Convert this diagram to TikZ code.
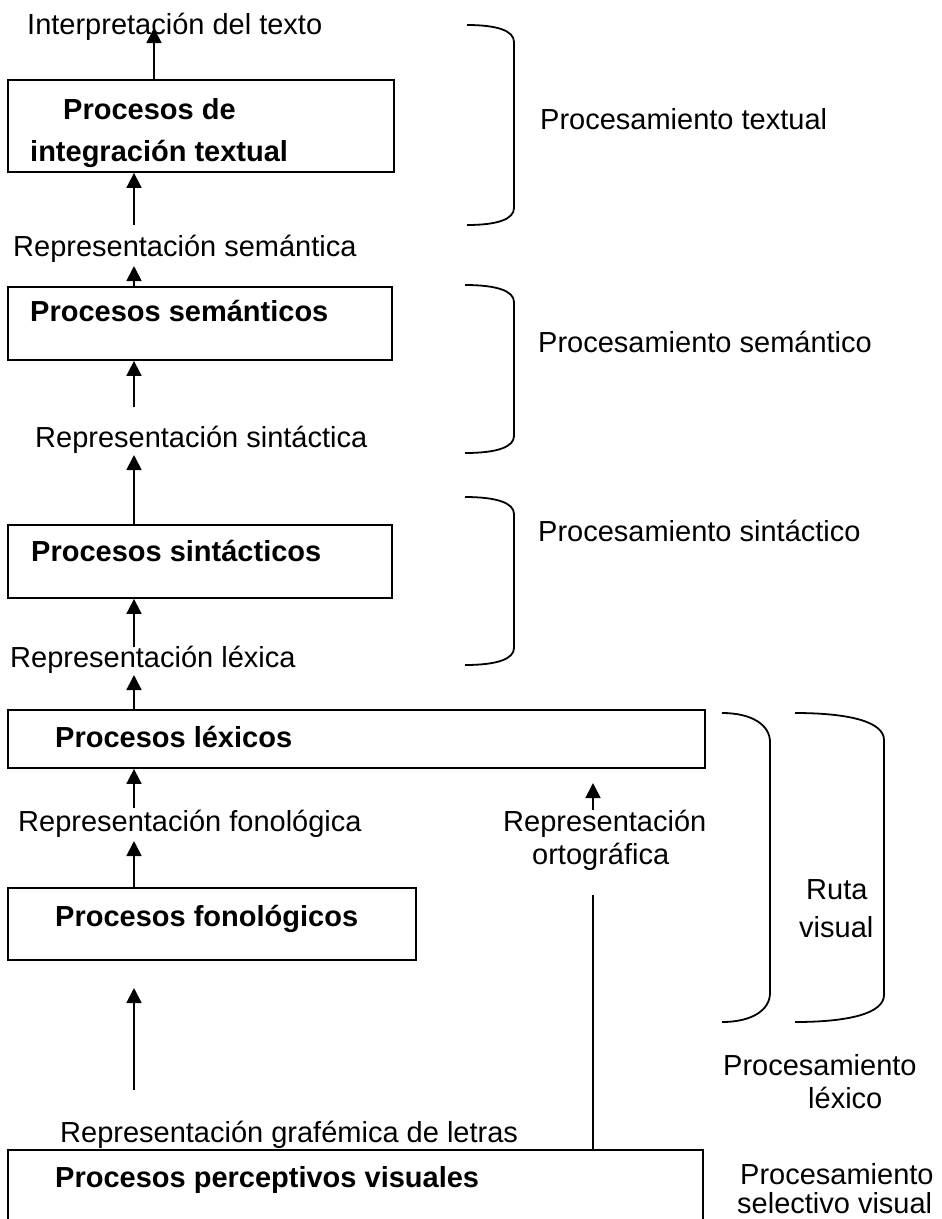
\documentclass[tikz,border=0pt]{standalone}
\usepackage{fontspec}
\setmainfont{Liberation Sans}
\usetikzlibrary{arrows.meta,fit}
\begin{document}
\begin{tikzpicture}[x=1pt,y=-1pt,
  procbox/.style={draw, line width=1.8pt, inner sep=0pt},
  txt/.style={anchor=base west, inner sep=0pt, font=\fontsize{29}{33}\selectfont},
  btxt/.style={anchor=base west, inner sep=0pt, font=\fontsize{29}{33}\selectfont\bfseries},
  up/.style={-{Triangle[width=15pt,length=15pt]}, line width=1.8pt},
  plain/.style={line width=1.8pt},
  brace/.style={line width=1.8pt}]
\useasboundingbox (0,0) rectangle (942,1219);
\fill[white] (0,0) rectangle (942,1219);
\clip (0,0) rectangle (942,1219);

% process boxes
\node[procbox, fit={(8,80) (394,172)}] (b1) {};
\node[procbox, fit={(8,287) (392,360)}] (b2) {};
\node[procbox, fit={(8,525) (392,598)}] (b3) {};
\node[procbox, fit={(8,710) (705,768)}] (b4) {};
\node[procbox, fit={(8,888) (416,960)}] (b5) {};
\node[procbox, fit={(8,1150) (703,1260)}] (b6) {};

% box titles
\node[btxt] (t1a) at (63,119) {Procesos de};
\node[btxt] (t1b) at (30,161) {integración textual};
\node[btxt] (t2) at (30,321) {Procesos semánticos};
\node[btxt] (t3) at (31,561) {Procesos sintácticos};
\node[btxt] (t4) at (55,747) {Procesos léxicos};
\node[btxt] (t5) at (55,926) {Procesos fonológicos};
\node[btxt] (t6) at (55,1187) {Procesos perceptivos visuales};

% representations between the stages
\node[txt] (rint) at (27,34) {Interpretación del texto};
\node[txt] (rsem) at (13,256) {Representación semántica};
\node[txt] (rsin) at (35,447) {Representación sintáctica};
\node[txt] (rlex) at (10,667) {Representación léxica};
\node[txt] (rfon) at (18,831) {Representación fonológica};
\node[txt] (rgra) at (60,1142) {Representación grafémica de letras};
\node[txt] (rort1) at (503,831) {Representación};
\node[txt] (rort2) at (532,864) {ortográfica};

% connector end points
\coordinate (c0) at (154,28);
\coordinate (c1) at (134,225);
\coordinate (c2) at (134,266);
\coordinate (c3) at (134,407);
\coordinate (c4) at (134,455);
\coordinate (c5) at (134,647);
\coordinate (c6) at (134,675);
\coordinate (c7) at (134,808);
\coordinate (c8) at (134,841);
\coordinate (c9) at (134,1090);
\coordinate (c10) at (134,988);
\coordinate (o1) at (593,810);
\coordinate (o2) at (593,783);
\coordinate (o3) at (593,895);

% upward flow
\draw[up] (c0 |- b1.north) -- (c0);
\draw[up] (c1) -- (c1 |- b1.south);
\draw[up] (c2 |- b2.north) -- (c2);
\draw[up] (c3) -- (c3 |- b2.south);
\draw[up] (c4 |- b3.north) -- (c4);
\draw[up] (c5) -- (c5 |- b3.south);
\draw[up] (c6 |- b4.north) -- (c6);
\draw[up] (c7) -- (c7 |- b4.south);
\draw[up] (c8 |- b5.north) -- (c8);
\draw[up] (c9) -- (c10);
\draw[up] (o1) -- (o2);
\draw[plain] (o3) -- (o3 |- b6.north);

% braces
\draw[brace] (467,25) .. controls (498,25) and (514,31) .. (514,42) -- (514,208)
  .. controls (514,219) and (498,225) .. (467,225);
\draw[brace] (465,285) .. controls (497,285) and (514,291) .. (514,302) -- (514,436)
  .. controls (514,447) and (497,453) .. (465,453);
\draw[brace] (465,497) .. controls (497,497) and (514,503) .. (514,514) -- (514,648)
  .. controls (514,659) and (497,665) .. (465,665);
\draw[brace] (722,713) .. controls (752,713) and (770,725) .. (770,742) -- (770,993)
  .. controls (770,1010) and (752,1022) .. (722,1022);
\draw[brace] (795,713) .. controls (850,713) and (884,722) .. (884,740) -- (884,995)
  .. controls (884,1013) and (850,1022) .. (795,1022);

% processing levels
\node[txt] (ptex) at (540,129) {Procesamiento textual};
\node[txt] (psem) at (538,352) {Procesamiento semántico};
\node[txt] (psin) at (538,541) {Procesamiento sintáctico};
\node[txt] (rv1) at (806,899) {Ruta};
\node[txt] (rv2) at (799,937) {visual};
\node[txt] (plx1) at (723,1075) {Procesamiento};
\node[txt] (plx2) at (808,1108) {léxico};
\node[txt] (psv1) at (740,1184) {Procesamiento};
\node[txt] (psv2) at (737,1213) {selectivo visual};
\end{tikzpicture}
\end{document}
